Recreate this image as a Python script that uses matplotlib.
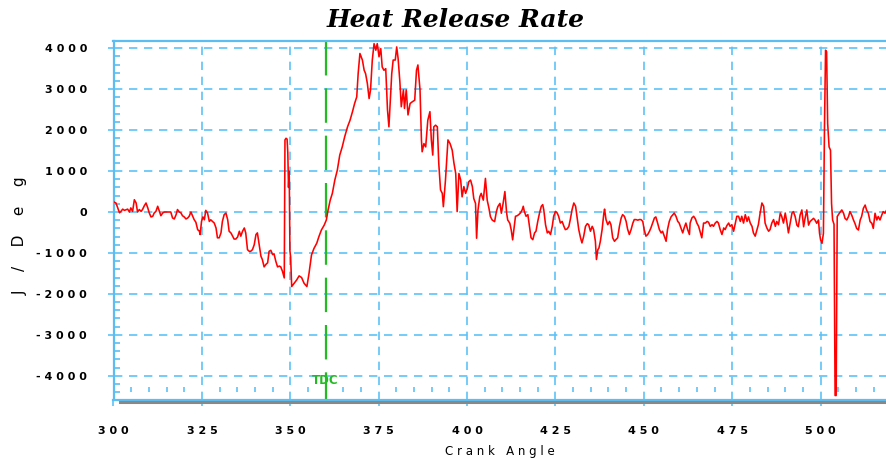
import numpy as np
import matplotlib
matplotlib.use("Agg")
import matplotlib.pyplot as plt
from matplotlib.ticker import MultipleLocator, FuncFormatter
from matplotlib.lines import Line2D

# ---- data ----
crank_angle = [
    300.0, 300.7, 301.2, 301.7, 302.1, 302.6, 303.1, 304.0, 304.5, 304.9, 305.4, 305.9, 306.4, 306.8,
    307.3, 307.8, 308.2, 308.7, 309.2, 309.7, 310.1, 310.6, 311.1, 311.5, 312.0, 312.5, 313.0, 313.4,
    313.9, 314.4, 315.3, 316.2, 316.7, 317.2, 317.7, 318.1, 318.6, 319.1, 319.5, 320.0, 320.5, 321.0,
    321.4, 321.9, 322.4, 322.8, 323.3, 323.8, 324.3, 324.5, 324.9, 325.3, 325.7, 326.1, 326.6, 327.1,
    327.5, 328.0, 328.5, 329.0, 329.4, 329.9, 330.4, 330.8, 331.3, 331.8, 332.3, 332.7, 333.2, 333.7,
    334.1, 334.6, 335.1, 335.6, 336.0, 336.5, 337.0, 337.4, 337.9, 338.4, 338.8, 339.3, 339.8, 340.3,
    340.7, 341.2, 341.7, 342.1, 342.6, 343.1, 343.6, 344.0, 344.5, 345.0, 345.4, 345.9, 346.4, 346.9,
    347.3, 347.8, 348.3,
    348.5, 348.8, 349.1, 349.3, 349.5, 349.7, 349.9, 350.1, 350.4,
    351.1, 351.8, 352.5, 353.2, 353.9, 354.7, 355.3, 356.0, 356.7, 357.5, 358.1, 358.8, 359.6, 360.2,
    360.7, 361.3, 361.9, 362.6, 363.3, 364.0, 364.7, 365.4, 366.2, 366.9, 367.6, 368.2, 368.8, 369.2,
    369.7, 370.4, 370.9, 371.3, 371.8, 372.3, 372.7, 373.2, 373.7, 374.2, 374.6, 375.1, 375.6, 376.0,
    376.5, 377.0, 377.5, 377.9,
    378.4, 378.7, 379.1, 379.7, 380.1, 380.5, 381.0, 381.4, 382.0, 382.3, 382.8, 383.3, 383.9, 384.5,
    385.2, 385.7, 386.1, 386.7, 387.1, 387.3, 387.8, 388.3, 388.9, 389.5, 389.9, 390.3, 390.6, 391.1,
    391.6, 392.0, 392.5, 393.0, 393.3, 393.9, 394.6, 395.2, 395.8, 396.3, 396.8, 397.2, 397.7, 398.2,
    398.6, 399.1, 399.6, 400.1, 400.5, 401.0, 401.5, 401.9, 402.4, 402.7, 403.1, 403.6, 404.0, 404.6,
    405.2, 405.7, 406.2, 406.6, 407.1, 407.8, 408.3, 408.7, 409.3, 409.7, 410.2, 410.7, 411.2, 411.5,
    412.1, 412.5, 412.9,
    413.7, 414.2, 414.6, 415.1, 415.6, 415.9, 416.2, 416.7, 417.2, 417.7, 418.1, 418.6, 419.1, 419.5,
    420.0, 420.5, 421.0, 421.4, 421.7, 422.2, 422.7, 423.1, 423.6, 424.1, 424.5, 425.0, 425.5, 425.9,
    426.4, 426.9, 427.4, 427.8, 428.3, 428.8, 429.2, 429.7, 430.2, 430.7, 431.1, 431.6, 432.1, 432.5,
    433.0, 433.5, 434.0, 434.4, 434.9, 435.4, 435.8, 436.3, 436.6, 437.0, 437.3, 437.7, 438.2, 438.7,
    438.9, 439.3, 439.8, 440.3, 440.7, 441.2, 441.7, 442.1, 442.6, 443.1, 443.6, 444.0, 444.5, 445.0,
    445.4, 445.9, 446.4, 446.9, 447.3, 447.8, 448.3, 448.7, 449.2, 449.7, 450.1, 450.6, 451.1, 451.6,
    452.0, 452.5, 453.0, 453.4, 453.9, 454.4, 454.9, 455.3, 455.8, 456.3, 456.7, 457.2, 457.7, 458.2,
    458.6, 459.1, 459.6, 460.0, 460.5, 461.0, 461.4, 461.9, 462.4, 462.9,
    463.1, 463.6, 464.1, 464.6, 465.0, 465.5, 466.0, 466.4, 466.9, 467.4, 467.9, 468.3, 468.8, 469.3,
    469.7, 470.2, 470.7, 471.1, 471.6, 472.1, 472.6, 473.0, 473.5, 474.0, 474.4, 474.9, 475.4, 475.9,
    476.3, 476.8, 477.3, 477.7, 478.2, 478.7, 479.2, 479.6, 480.1, 480.6, 481.0, 481.5, 482.0, 482.4,
    482.9, 483.4, 483.9, 484.3, 484.8, 485.3, 485.7, 486.2, 486.7, 487.2, 487.6, 488.1, 488.6, 489.0,
    489.5, 490.0, 490.5, 490.9,
    491.9, 492.3, 492.8, 493.3, 493.7, 494.2, 494.7, 495.2, 495.6, 496.1, 496.6, 497.0, 497.5, 498.0,
    498.4, 498.9, 499.4, 499.7, 500.0, 500.4, 500.8, 501.1, 501.4, 501.7, 502.0, 502.4, 502.8, 503.1,
    503.4, 503.8, 504.1, 504.4, 504.7, 505.3, 506.0, 506.5, 506.9, 507.4, 507.9, 508.3, 508.8, 509.3,
    509.7, 510.2, 510.7, 511.2, 511.6, 512.1, 512.6, 513.0, 513.5, 514.0, 514.5, 514.9, 515.4, 515.9,
    516.3, 516.8, 517.3, 517.7, 518.2, 518.7,
]
heat_release = [
    250, 220, 100, -20, 15, 70, 40, 70, 0, 100, 15, 300, 220, 0,
    60, 15, 60, 150, 220, 100, -20, -120, -105, -25, 15, 140, 15, -90,
    -25, 0, 0, 0, -145, -170, -65, 60, 0, -25, -90, -120, -170, -145,
    -105, 0, -105, -185, -250, -430, -470, -550, -230, -120, -190, 40, -25, -230,
    -190, -230, -270, -390, -630, -630, -510, -230, -65, -25, -190, -470, -510, -590,
    -660, -660, -610, -470, -590, -470, -390, -510, -920, -960, -960, -920, -800, -550,
    -510, -800, -1080, -1160, -1340, -1280, -1240, -960, -935, -1040, -1020, -1200, -1340, -1320,
    -1340, -1450, -1610,
    1760, 1800, 1780, 1450, 600, 1000, -950, -1100, -1820,
    -1740, -1660, -1560, -1600, -1740, -1820, -1500, -1050, -890, -760, -600, -440, -320, -195,
    50, 290, 455, 780, 1020, 1390, 1590, 1840, 2080, 2240, 2450, 2650, 2810, 3380,
    3870, 3710, 3460, 3380, 3140, 2770, 2980, 3710, 4110, 3950, 4110, 3790, 3990, 3540,
    3460, 3500, 2490, 2080,
    2890, 3380, 3710, 3710, 4030, 3750, 3180, 2570, 2980, 2530, 2980, 2370, 2650, 2690,
    2730, 3460, 3590, 2980, 1760, 1470, 1670, 1590, 2240, 2450, 1760, 1390, 2080, 2120,
    2080, 1190, 540, 455, 130, 780, 1760, 1670, 1510, 1190, 940, 10, 940, 780,
    370, 620, 455, 580, 740, 780, 620, 330, 210, -640, 50, 370, 455, 290,
    820, 290, 90, -110, -195, -235, 10, 130, 210, -30, 210, 500, -30, -195,
    -275, -440, -680,
    -105, -90, -65, -25, 55, 140, 15, -105, -65, -390, -630, -675, -510, -470,
    -230, -25, 140, 180, 55, -310, -510, -470, -550, -350, -105, 15, -25, -105,
    -270, -230, -350, -430, -415, -350, -185, 55, 220, 140, -105, -430, -630, -755,
    -590, -350, -285, -310, -470, -350, -430, -715, -1160, -920, -880, -715, -430, -25,
    70, -185, -310, -230, -310, -630, -715, -675, -630, -350, -145, -65, -105, -230,
    -415, -550, -430, -270, -185, -185, -200, -185, -185, -230, -430, -590, -550, -470,
    -390, -270, -145, -120, -270, -430, -510, -470, -590, -715, -430, -230, -120, -65,
    -25, -105, -230, -270, -390, -510, -390, -270, -430, -550,
    -270, -145, -105, -170, -270, -350, -510, -630, -270, -270, -230, -250, -350, -310,
    -350, -270, -230, -270, -430, -550, -390, -430, -330, -270, -350, -310, -470, -270,
    -105, -105, -230, -105, -270, -65, -230, -120, -270, -350, -510, -590, -430, -310,
    -25, 220, 140, -270, -390, -470, -430, -270, -185, -350, -230, -310, -25, -105,
    -270, -25, -270, -510,
    -30, 10, -110, -320, -360, -75, 50, -360, -155, 50, -320, -235, -195, -155,
    -195, -275, -195, -520, -680, -765, -520, 2080, 3950, 3910, 2160, 1590, 1510, 210,
    -195, -300, -4480, -4480, -110, -30, 50, -30, -155, -195, -110, 10, -75, -195,
    -275, -400, -440, -195, -110, 90, 170, 50, -30, -235, -275, -400, -30, -195,
    -110, -195, -75, 10, -30, 50,
]
x_ticks = [300, 325, 350, 375, 400, 425, 450, 475, 500]
y_ticks = [-4000, -3000, -2000, -1000, 0, 1000, 2000, 3000, 4000]
tdc_angle = 360
tdc_label = "TDC"
title = "Heat Release Rate"
x_label = "C r a n k   A n g l e"
y_label = "J    /    D    e    g"

# ---- styling ----
GRID = "#5cc3f6"
SPINE = "#5cbdf0"
RED = "#ff0000"
GREEN = "#22bb22"

W, H = 886, 459
fig = plt.figure(figsize=(W / 100, H / 100), dpi=100)
left_px, right_px, top_px, bot_px = 113.5, 886, 41, 400
ax = fig.add_axes([left_px / W, 1 - bot_px / H, (right_px - left_px) / W, (bot_px - top_px) / H])

ax.set_xlim(300, 518.5)
ax.set_ylim(-4590, 4175)

ax.set_axisbelow(True)
ax.grid(True, which="major", color=GRID, linestyle=(0, (5, 4)), linewidth=1.2)

ax.plot(crank_angle, heat_release, color=RED, linewidth=1.15, zorder=3)

# TDC marker
ax.plot([tdc_angle, tdc_angle], [4175, -4590], color=GREEN, linewidth=1.6,
        linestyle=(0, (15.5, 5.8)), zorder=2)
ax.text(tdc_angle, -4120, tdc_label, color=GREEN, fontsize=8.5, fontweight="bold",
        ha="center", va="center", zorder=4)

# small inner ticks along the bottom
minor_x = [v for v in range(305, 519, 5) if v % 25 != 0]
ax.vlines(minor_x, -4390, -4270, color=GRID, linewidth=1.2, zorder=1)

# ticks
ax.xaxis.set_major_locator(plt.FixedLocator(x_ticks))
ax.yaxis.set_major_locator(plt.FixedLocator(y_ticks))
ax.yaxis.set_minor_locator(MultipleLocator(200))
fmt = FuncFormatter(lambda v, p: " ".join(str(int(v))))
ax.xaxis.set_major_formatter(fmt)
ax.yaxis.set_major_formatter(fmt)
ax.tick_params(axis="both", which="major", direction="out", length=4, width=1.2,
               color=GRID, labelsize=8)
ax.tick_params(axis="y", which="major", pad=15)
ax.tick_params(axis="x", which="major", pad=15)
ax.tick_params(axis="y", which="minor", direction="in", length=4.5, width=1.2, color=SPINE)
for lab in ax.get_xticklabels() + ax.get_yticklabels():
    lab.set_fontweight("bold")

for s in ["top", "left", "bottom"]:
    ax.spines[s].set_color(SPINE)
    ax.spines[s].set_linewidth(1.6)
ax.spines["right"].set_visible(False)

# gray bar under the plotting area
fig.add_artist(Line2D([120 / W, 1.0], [1 - 401.5 / H, 1 - 401.5 / H],
                      color="#888888", linewidth=2.2, transform=fig.transFigure))

fig.text(456 / W, 1 - 20 / H, title, fontsize=18, fontweight="bold", fontstyle="italic",
         family="DejaVu Serif", ha="center", va="center")
fig.text(500 / W, 1 - 452 / H, x_label, fontsize=8.5, ha="center", va="center")
fig.text(20 / W, 1 - 236 / H, y_label, fontsize=11, ha="center", va="center", rotation=90)

fig.savefig("out.png", dpi=100)
